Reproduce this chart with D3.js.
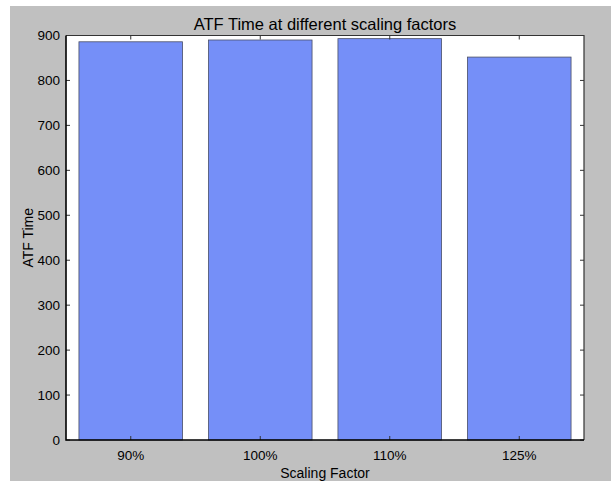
<!DOCTYPE html>
<html lang="en">
<head>
    <meta charset="UTF-8">
    <title>ATF Time at different scaling factors</title>
    <script src="https://d3js.org/d3.v7.min.js"></script>
    <style>
        body {
            margin: 0;
            background: #fff;
            font-family: 'Liberation Sans', Arial, sans-serif;
        }
        .tick text {
            font-size: 13.5px;
            fill: #000;
        }
    </style>
</head>
<body>
    <div id="chart"></div>
    <script>
        // data
        const categories = ["90%", "100%", "110%", "125%"];
        const atfTimes = [886, 890, 893, 852];
        const yTicks = [0, 100, 200, 300, 400, 500, 600, 700, 800, 900];

        const width = 613, height = 481;
        const margin = { top: 35.5, right: 29, bottom: 41, left: 66 };

        const svg = d3.select("#chart").append("svg")
            .attr("width", width)
            .attr("height", height);

        // grey figure background
        svg.append("rect")
            .attr("x", 10).attr("y", 6)
            .attr("width", width - 12).attr("height", height - 6)
            .attr("fill", "#c0c0c0");

        const x = d3.scaleBand()
            .domain(categories)
            .range([margin.left, width - margin.right])
            .paddingInner(0.2)
            .paddingOuter(0.1);

        const y = d3.scaleLinear()
            .domain([0, 900])
            .range([height - margin.bottom, margin.top]);

        // plot area
        svg.append("rect")
            .attr("x", margin.left).attr("y", margin.top)
            .attr("width", width - margin.left - margin.right)
            .attr("height", height - margin.top - margin.bottom)
            .attr("fill", "#fff");

        // bars
        svg.selectAll(".bar")
            .data(atfTimes)
            .enter()
            .append("rect")
            .attr("class", "bar")
            .attr("x", (d, i) => x(categories[i]))
            .attr("y", d => y(d))
            .attr("width", x.bandwidth())
            .attr("height", d => y(0) - y(d))
            .attr("fill", "#758ff8")
            .attr("stroke", "#4a4f66")
            .attr("stroke-width", 0.8);

        const xc = d => x(d) + x.bandwidth() / 2;

        // axes: left and bottom with labels, top and right ticks only
        const left = svg.append("g")
            .attr("transform", `translate(${margin.left},0)`)
            .call(d3.axisLeft(y).tickValues(yTicks).tickSize(0).tickPadding(6));
        left.select(".domain").remove();

        const bottom = svg.append("g")
            .attr("transform", `translate(0,${height - margin.bottom})`)
            .call(d3.axisBottom(x).tickSize(0).tickPadding(10));
        bottom.select(".domain").remove();

        const tickColor = "#333";
        // inward ticks
        svg.append("g").selectAll("line")
            .data(yTicks).enter().append("line")
            .attr("x1", margin.left).attr("x2", margin.left + 4)
            .attr("y1", d => y(d)).attr("y2", d => y(d))
            .attr("stroke", tickColor);
        svg.append("g").selectAll("line")
            .data(yTicks).enter().append("line")
            .attr("x1", width - margin.right).attr("x2", width - margin.right - 4)
            .attr("y1", d => y(d)).attr("y2", d => y(d))
            .attr("stroke", tickColor);
        svg.append("g").selectAll("line")
            .data(categories).enter().append("line")
            .attr("x1", xc).attr("x2", xc)
            .attr("y1", height - margin.bottom).attr("y2", height - margin.bottom - 4)
            .attr("stroke", tickColor);
        svg.append("g").selectAll("line")
            .data(categories).enter().append("line")
            .attr("x1", xc).attr("x2", xc)
            .attr("y1", margin.top).attr("y2", margin.top + 4)
            .attr("stroke", tickColor);

        // frame
        const x0 = margin.left, x1 = width - margin.right;
        const y0 = margin.top, y1 = height - margin.bottom;
        svg.append("path")
            .attr("d", `M${x0},${y0}H${x1}V${y1}`)
            .attr("fill", "none")
            .attr("stroke", "#333")
            .attr("stroke-width", 1.2);
        svg.append("path")
            .attr("d", `M${x0},${y0}V${y1}H${x1}`)
            .attr("fill", "none")
            .attr("stroke", "#000")
            .attr("stroke-width", 1.6);

        // titles
        svg.append("text")
            .attr("x", (x0 + x1) / 2).attr("y", 30)
            .attr("text-anchor", "middle")
            .style("font-size", "16.5px")
            .text("ATF Time at different scaling factors");

        svg.append("text")
            .attr("x", (x0 + x1) / 2).attr("y", 478)
            .attr("text-anchor", "middle")
            .style("font-size", "14px")
            .text("Scaling Factor");

        svg.append("text")
            .attr("transform", `translate(33,${(y0 + y1) / 2}) rotate(-90)`)
            .attr("text-anchor", "middle")
            .style("font-size", "14px")
            .text("ATF Time");
    </script>
</body>
</html>
